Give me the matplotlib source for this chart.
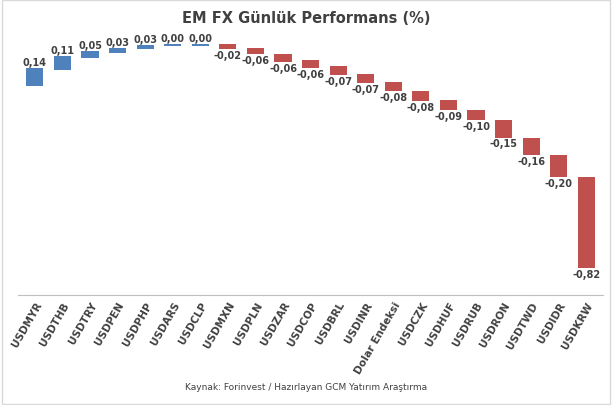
import matplotlib.pyplot as plt
import numpy as np

names = ["USDMYR", "USDTHB", "USDTRY", "USDPEN", "USDPHP", "USDARS", "USDCLP",
         "USDMXN", "USDPLN", "USDZAR", "USDCOP", "USDBRL", "USDINR", "Dolar Endeksi",
         "USDCZK", "USDHUF", "USDRUB", "USDRON", "USDTWD", "USDIDR", "USDKRW"]
values = [0.14, 0.11, 0.05, 0.03, 0.03, 0.00, 0.00, -0.02, -0.06, -0.06, -0.06,
          -0.07, -0.07, -0.08, -0.08, -0.09, -0.10, -0.15, -0.16, -0.20, -0.82]
# bar spans (arbitrary depth units, downwards)
span_top = [27, 15, 10, 7, 4, 3, 3, 3, 7, 13, 19, 25, 33, 41, 50, 59, 69, 79, 96, 113, 135]
span_bot = [45, 29, 17, 12, 8, 5, 5, 8, 13, 21, 27, 34, 42, 50, 60, 69, 79, 96, 113, 135, 225]

fig = plt.figure(figsize=(6.12, 4.06), dpi=100)
ax = fig.add_axes([0.03, 0.27, 0.955, 0.635])
x = np.arange(len(names))
cols = ["#4F81BD" if v >= 0 else "#C0504D" for v in values]
h = [b - t for t, b in zip(span_top, span_bot)]
ax.bar(x, h, bottom=span_top, width=0.62, color=cols)
for i, v in enumerate(values):
    s = f"{v:.2f}".replace(".", ",")
    if v >= 0:
        ax.text(i, span_top[i] - 0.8, s, ha="center", va="bottom", fontsize=7,
                fontweight="bold", color="#404040")
    else:
        ax.text(i, span_bot[i] + 0.8, s, ha="center", va="top", fontsize=7,
                fontweight="bold", color="#404040")
ax.set_ylim(252, -3)
ax.set_xlim(-0.6, len(names) - 0.4)
ax.set_yticks([])
ax.set_xticks(x)
ax.set_xticklabels(names, rotation=60, ha="right", rotation_mode="anchor",
                   fontsize=7.5, fontweight="bold", color="#404040")
ax.tick_params(axis="x", length=0, pad=3)
for s in ["top", "right", "left"]:
    ax.spines[s].set_visible(False)
ax.spines["bottom"].set_color("#BFBFBF")
fig.text(0.5, 0.955, "EM FX Günlük Performans (%)", ha="center", va="center",
         fontsize=10.5, fontweight="bold", color="#404040")
fig.text(0.5, 0.045, "Kaynak: Forinvest / Hazırlayan GCM Yatırım Araştırma",
         ha="center", va="center", fontsize=6.5, color="#404040")
fig.patches.append(plt.Rectangle((0.003, 0.003), 0.994, 0.994, transform=fig.transFigure,
                                 fill=False, edgecolor="#D9D9D9", lw=1))
fig.savefig("out.png", dpi=100)
